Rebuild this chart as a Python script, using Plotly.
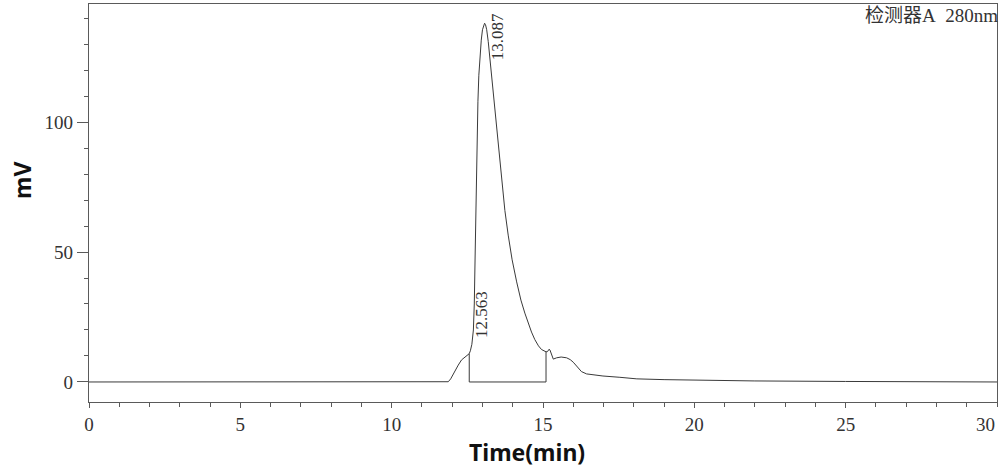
import plotly.graph_objects as go

# Chromatogram trace (time in min, signal in mV)
time_min = [0, 2, 4, 6, 8, 10, 11, 11.5, 11.8, 11.87, 11.95, 12.0, 12.09, 12.2, 12.31, 12.45,
            12.563, 12.6, 12.65, 12.70, 12.73, 12.76, 12.79, 12.82, 12.85, 12.88, 12.92,
            12.96, 13.0, 13.04, 13.07, 13.10, 13.14, 13.19, 13.24, 13.3, 13.4, 13.49, 13.56,
            13.63, 13.74, 13.85, 13.98, 14.13, 14.27, 14.4, 14.52, 14.62, 14.73, 14.85, 14.95,
            15.05, 15.1, 15.15, 15.2, 15.23, 15.29, 15.34, 15.45, 15.6, 15.78, 15.9, 16.0, 16.13,
            16.27, 16.44, 16.7, 16.98, 17.54, 18.1, 19, 20, 22, 25, 28, 30]
signal_mv = [0, 0, 0, 0, 0, 0, 0, 0, 0, 0.1, 1.2, 2.3, 4.0, 6.5, 8.5, 10.0,
             10.9, 12.0, 14.5, 20, 30, 50, 72, 93, 108, 118, 126,
             131.5, 135.5, 137.6, 138, 137.5, 135.5, 131, 125, 117.5, 105, 94, 85.5,
             77.5, 66, 56.5, 47, 38.5, 31.5, 26.5, 22.3, 19.2, 16.3, 13.9, 12.5,
             11.7, 11.6, 11.7, 12.6, 12.3, 10.5, 8.8, 9.3, 9.6, 9.3, 8.6, 7.6, 5.8,
             4.0, 3.1, 2.6, 2.3, 1.8, 1.2, 0.9, 0.7, 0.4, 0.2, 0.05, 0]

# Integration drop lines and baseline
drop_times = [12.563, 15.1]
drop_values = [10.9, 11.6]

# Peak labels
peak_times = [13.087, 12.563]
peak_values = [138, 10.9]
peak_labels = ["13.087", "12.563"]
label_shift = [(12, -14), (12, 39)]

x_ticks = [0, 5, 10, 15, 20, 25, 30]
y_ticks = [0, 50, 100]

line_col = "#3a3a3a"
axis_col = "#5a5a5a"

fig = go.Figure()
fig.add_trace(go.Scatter(x=time_min, y=signal_mv, mode="lines",
                         line=dict(color=line_col, width=1), showlegend=False))
# baseline between drop lines
fig.add_trace(go.Scatter(x=[drop_times[0], drop_times[1]], y=[0, 0], mode="lines",
                         line=dict(color=line_col, width=1), showlegend=False))
for t, v in zip(drop_times, drop_values):
    fig.add_trace(go.Scatter(x=[t, t], y=[0, v], mode="lines",
                             line=dict(color=line_col, width=1), showlegend=False))

serif = "Liberation Serif, DejaVu Serif, serif"
for t, v, lab, (dx, dy) in zip(peak_times, peak_values, peak_labels, label_shift):
    fig.add_annotation(x=t, y=v, text=lab, showarrow=False, textangle=-90,
                       xshift=dx, yshift=dy, xanchor="center", yanchor="middle",
                       font=dict(family=serif, size=17, color="#333"))

# last x tick label sits flush against the right edge
fig.add_annotation(x=x_ticks[-1], xref="x", yref="paper", y=-0.0553, text=str(x_ticks[-1]),
                   showarrow=False, xanchor="right", yanchor="middle",
                   font=dict(family=serif, size=19, color="#333"))

fig.add_annotation(xref="paper", yref="paper", x=1.0, y=0.972, text="检测器A\u00a0\u00a0280nm",
                   showarrow=False, xanchor="right", yanchor="middle", xshift=3,
                   font=dict(family="Liberation Serif, Noto Sans CJK SC, serif", size=19, color="#333"))
fig.add_annotation(xref="paper", yref="paper", x=0.4824, y=-0.1256, text="<b>Time(min)</b>",
                   showarrow=False, xanchor="center", yanchor="middle",
                   font=dict(family="Noto Sans, sans-serif", size=23, color="#111"))
fig.add_annotation(xref="paper", yref="paper", x=-0.0738, y=0.558, text="<b>mV</b>",
                   showarrow=False, textangle=-90, xanchor="center", yanchor="middle",
                   font=dict(family="Noto Sans, sans-serif", size=23, color="#111"))

fig.update_xaxes(range=[0, 30], tickvals=x_ticks[:-1], ticks="outside", ticklen=5, tickwidth=1,
                 tickcolor=axis_col, showline=True, linecolor=axis_col, linewidth=1.2,
                 mirror=True, showgrid=False, zeroline=False, automargin=False,
                 minor=dict(dtick=1, ticks="outside", ticklen=4, tickcolor=axis_col, showgrid=False),
                 tickfont=dict(family=serif, size=19, color="#333"))
fig.update_yaxes(range=[-7.7, 145.4], tickvals=y_ticks, ticks="outside", ticklen=11, tickwidth=1,
                 tickcolor=axis_col, showline=True, linecolor=axis_col, linewidth=1.2,
                 mirror=True, showgrid=False, zeroline=False, automargin=False,
                 minor=dict(dtick=10, ticks="outside", ticklen=4, tickcolor=axis_col, showgrid=False),
                 tickfont=dict(family=serif, size=19, color="#333"))

fig.update_layout(width=999, height=467, margin=dict(l=89, r=2, t=4, b=65),
                  plot_bgcolor="white", paper_bgcolor="white")
fig.write_html("out.html")
